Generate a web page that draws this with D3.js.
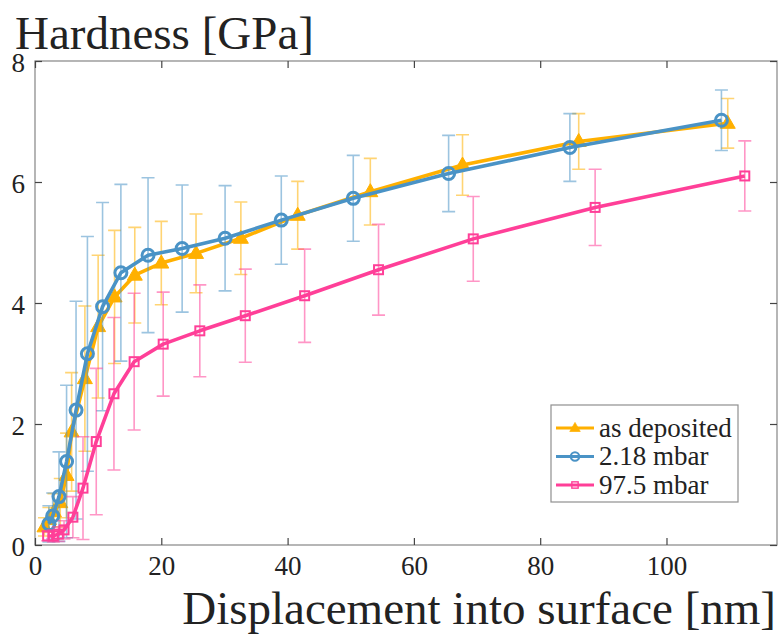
<!DOCTYPE html>
<html>
<head>
<meta charset="utf-8">
<script src="https://cdn.jsdelivr.net/npm/d3@7"></script>
<style>
  body { margin: 0; background: #fff; }
  svg text { font-family: "Liberation Serif", "Times New Roman", serif; fill: #222; }
</style>
</head>
<body>
<div id="graph"></div>
<script>
// values
let xTicks = [0, 20, 40, 60, 80, 100];
let yTicks = [0, 2, 4, 6, 8];

let depX = [1.5, 2.2, 3.0, 4.0, 5.0, 5.8, 7.9, 10.0, 12.6, 15.8, 20.0, 25.5, 32.6, 41.6, 53.1, 67.7, 86.1, 109.7];
let depY = [0.3, 0.42, 0.55, 0.7, 1.15, 1.87, 2.75, 3.61, 4.1, 4.46, 4.66, 4.82, 5.07, 5.45, 5.84, 6.28, 6.67, 6.97];
let depErr = [0.15, 0.2, 0.3, 0.4, 0.7, 0.98, 1.2, 1.18, 1.1, 0.79, 0.69, 0.65, 0.6, 0.56, 0.55, 0.5, 0.46, 0.41];

let lowX = [2.2, 2.8, 3.8, 5.0, 6.5, 8.3, 10.7, 13.6, 17.9, 23.3, 30.1, 39.0, 50.4, 65.5, 84.7, 108.7];
let lowY = [0.35, 0.48, 0.8, 1.38, 2.23, 3.16, 3.94, 4.5, 4.79, 4.9, 5.07, 5.37, 5.73, 6.14, 6.57, 7.02];
let lowErr = [0.3, 0.38, 0.74, 1.26, 1.8, 1.94, 1.72, 1.46, 1.28, 1.05, 0.87, 0.73, 0.71, 0.63, 0.56, 0.5];

let highX = [2.0, 2.9, 3.7, 4.6, 6.0, 7.6, 9.7, 12.5, 15.7, 20.3, 26.1, 33.3, 42.7, 54.4, 69.4, 88.7, 112.4];
let highY = [0.15, 0.15, 0.18, 0.25, 0.46, 0.94, 1.71, 2.5, 3.03, 3.32, 3.54, 3.79, 4.12, 4.55, 5.06, 5.58, 6.1];
let highErr = [0.08, 0.1, 0.12, 0.15, 0.34, 0.85, 1.21, 1.26, 1.13, 0.86, 0.76, 0.77, 0.77, 0.75, 0.7, 0.63, 0.58];

let seriesNames = ['as deposited', '2.18 mbar', '97.5 mbar'];

let w = 779, h = 635;
let padL = 35, padR = 777, padT = 61, padB = 545;

let svg = d3.select('#graph').append('svg').attr('width', w).attr('height', h);

let x = d3.scaleLinear().domain([0, 117.5]).range([padL, padR]);
let y = d3.scaleLinear().domain([0, 8]).range([padB, padT]);

function zip(xs, ys, es) {
    return xs.map((v, i) => ({ x: v, y: ys[i], e: es[i] }));
}

let series = [
    { name: seriesNames[0], color: '#ffb000', marker: 'triangle', data: zip(depX, depY, depErr) },
    { name: seriesNames[1], color: '#4a93c6', marker: 'circle', data: zip(lowX, lowY, lowErr) },
    { name: seriesNames[2], color: '#ff3f98', marker: 'square', data: zip(highX, highY, highErr) }
];

// axes box
svg.append('rect')
    .attr('x', padL).attr('y', padT)
    .attr('width', padR - padL).attr('height', padB - padT)
    .attr('fill', 'none').attr('stroke', '#8f8f8f').attr('stroke-width', 1.3);

let tickLen = 7;
let axB = svg.append('g').attr('transform', `translate(0,${padB})`)
    .call(d3.axisBottom(x).tickValues(xTicks).tickSize(-tickLen).tickPadding(tickLen + 5));
let axT = svg.append('g').attr('transform', `translate(0,${padT})`)
    .call(d3.axisTop(x).tickValues(xTicks).tickSize(-tickLen).tickFormat(''));
let axL = svg.append('g').attr('transform', `translate(${padL},0)`)
    .call(d3.axisLeft(y).tickValues(yTicks).tickSize(-tickLen).tickPadding(tickLen + 3));
let axR = svg.append('g').attr('transform', `translate(${padR},0)`)
    .call(d3.axisRight(y).tickValues(yTicks).tickSize(-tickLen).tickFormat(''));

[axB, axT, axL, axR].forEach(a => {
    a.attr('font-family', '"Liberation Serif", serif');
    a.select('.domain').remove();
    a.selectAll('.tick line').attr('stroke', '#444').attr('stroke-width', 1.2);
    a.selectAll('.tick text').attr('font-size', 27).attr('fill', '#222');
});
axL.selectAll('.tick text').attr('dy', '0.38em');
axB.selectAll('.tick text').attr('dy', '0.68em');

let line = d3.line().x(d => x(d.x)).y(d => y(d.y));

function drawMarker(g, type, color, cx, cy) {
    if (type === 'triangle') {
        g.append('path')
            .attr('d', `M${cx},${cy - 8} L${cx + 7.5},${cy + 5} L${cx - 7.5},${cy + 5} Z`)
            .attr('fill', color).attr('stroke', color).attr('stroke-width', 1);
    } else if (type === 'circle') {
        g.append('circle').attr('cx', cx).attr('cy', cy).attr('r', 6)
            .attr('fill', 'none').attr('stroke', color).attr('stroke-width', 3);
    } else {
        g.append('rect').attr('x', cx - 4.5).attr('y', cy - 4.5)
            .attr('width', 9).attr('height', 9)
            .attr('fill', 'none').attr('stroke', color).attr('stroke-width', 2);
    }
}

let plot = svg.append('g');
series.forEach(s => {
    let g = plot.append('g');
    // error bars
    let cap = 6.5;
    s.data.forEach(d => {
        let lo = y(Math.max(0, d.y - d.e)), hi = y(d.y + d.e), cx = x(d.x);
        g.append('path')
            .attr('d', `M${cx},${lo} L${cx},${hi} M${cx - cap},${lo} L${cx + cap},${lo} M${cx - cap},${hi} L${cx + cap},${hi}`)
            .attr('stroke', s.color).attr('stroke-opacity', 0.55).attr('stroke-width', 1.6).attr('fill', 'none');
    });
    g.append('path').datum(s.data).attr('d', line)
        .attr('fill', 'none').attr('stroke', s.color).attr('stroke-width', 3.6)
        .attr('stroke-linejoin', 'round');
    s.data.forEach(d => drawMarker(g, s.marker, s.color, x(d.x), y(d.y)));
});

// axis labels
svg.append('text').attr('x', 15).attr('y', 49).attr('font-size', 47).text('Hardness [GPa]');
svg.append('text').attr('x', 776).attr('y', 624).attr('text-anchor', 'end').attr('font-size', 47)
    .text('Displacement into surface [nm]');

// legend
let legend = svg.append('g');
legend.append('rect').attr('x', 551).attr('y', 405).attr('width', 187).attr('height', 97)
    .attr('fill', '#fff').attr('stroke', '#8f8f8f').attr('stroke-width', 1.2);
series.forEach((s, i) => {
    let ly = 428 + i * 28.5;
    legend.append('line').attr('x1', 556).attr('x2', 594).attr('y1', ly).attr('y2', ly)
        .attr('stroke', s.color).attr('stroke-width', 3);
    let mg = legend.append('g').attr('transform', `translate(575,${ly}) scale(0.7)`);
    drawMarker(mg, s.marker, s.color, 0, 0);
    legend.append('text').attr('x', 599).attr('y', ly).attr('dy', '0.33em')
        .attr('font-size', 27).text(s.name);
});
</script>
</body>
</html>
